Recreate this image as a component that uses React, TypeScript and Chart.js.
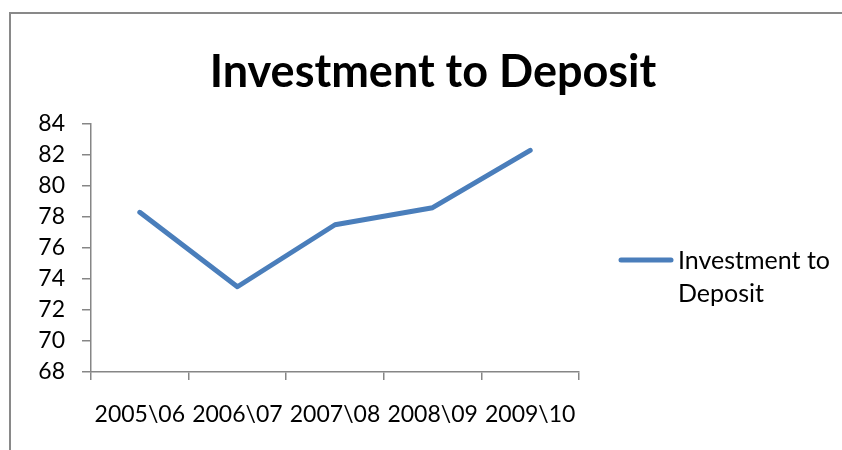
import React, { useEffect, useRef } from "react";
import { Chart, registerables } from "chart.js";

Chart.register(...registerables);

const categories: string[] = ["2005\\06", "2006\\07", "2007\\08", "2008\\09", "2009\\10"];
const values: number[] = [78.3, 73.5, 77.5, 78.6, 82.3];
const chartTitle = "Investment to Deposit";
const legendLines: string[] = ["Investment to", "Deposit"];
const yMin = 68;
const yMax = 84;
const yStep = 2;

const FONT = "Lato, 'Open Sans', sans-serif";
const LINE_COLOR = "#4A7EBB";
const AXIS_COLOR = "#868686";

const overlayPlugin = {
  id: "overlay",
  beforeDraw(chart: any) {
    const ctx = chart.ctx;
    ctx.save();
    ctx.fillStyle = "#ffffff";
    ctx.fillRect(0, 0, chart.width, chart.height);
    ctx.fillStyle = "#898989";
    ctx.fillRect(9, 12, 2, chart.height - 12);
    ctx.fillRect(9, 12, chart.width - 9, 2);
    ctx.restore();
  },
  afterDraw(chart: any) {
    const ctx = chart.ctx;
    ctx.save();
    ctx.fillStyle = "#000000";
    ctx.font = `bold 45px ${FONT}`;
    ctx.textAlign = "center";
    ctx.textBaseline = "alphabetic";
    ctx.fillText(chartTitle, 433, 87);

    // legend
    ctx.strokeStyle = LINE_COLOR;
    ctx.lineWidth = 5;
    ctx.lineCap = "round";
    ctx.beginPath();
    ctx.moveTo(621, 260);
    ctx.lineTo(671, 260);
    ctx.stroke();
    ctx.font = `25px ${FONT}`;
    ctx.textAlign = "left";
    ctx.textBaseline = "middle";
    legendLines.forEach((t, i) => ctx.fillText(t, 678, 261 + i * 33));
    ctx.restore();
  },
};

export default function App() {
  const ref = useRef<HTMLCanvasElement | null>(null);
  useEffect(() => {
    if (!ref.current) return;
    const chart = new Chart(ref.current, {
      type: "line",
      data: {
        labels: categories,
        datasets: [
          {
            label: chartTitle,
            data: values,
            borderColor: LINE_COLOR,
            backgroundColor: LINE_COLOR,
            borderWidth: 5,
            pointRadius: 0,
            tension: 0,
            borderCapStyle: "round",
            borderJoinStyle: "round",
          },
        ],
      },
      options: {
        animation: false,
        responsive: true,
        maintainAspectRatio: false,
        layout: { padding: { top: 124, right: 263, left: 0, bottom: 0 } },
        plugins: {
          legend: { display: false },
          title: { display: false },
          tooltip: { enabled: false },
        },
        scales: {
          x: {
            type: "category",
            offset: true,
            grid: {
              offset: true,
              drawOnChartArea: false,
              drawTicks: true,
              tickLength: 8,
              color: AXIS_COLOR,
              lineWidth: 1.5,
            },
            border: { color: AXIS_COLOR, width: 1.5 },
            ticks: {
              color: "#000000",
              font: { family: FONT, size: 23 },
              padding: 21,
              maxRotation: 0,
              autoSkip: false,
            },
            afterFit: (s: any) => {
              s.height = 78;
            },
          },
          y: {
            min: yMin,
            max: yMax,
            grid: {
              drawOnChartArea: false,
              drawTicks: true,
              tickLength: 9,
              color: AXIS_COLOR,
              lineWidth: 1.5,
            },
            border: { color: AXIS_COLOR, width: 1.5 },
            ticks: {
              stepSize: yStep,
              color: "#000000",
              font: { family: FONT, size: 23 },
              padding: 17,
            },
            afterFit: (s: any) => {
              s.width = 91;
            },
          },
        },
      },
      plugins: [overlayPlugin],
    });
    return () => chart.destroy();
  }, []);
  return (
    <div style={{ position: "absolute", left: 0, top: 0, width: 842, height: 450 }}>
      <canvas ref={ref} />
    </div>
  );
}
